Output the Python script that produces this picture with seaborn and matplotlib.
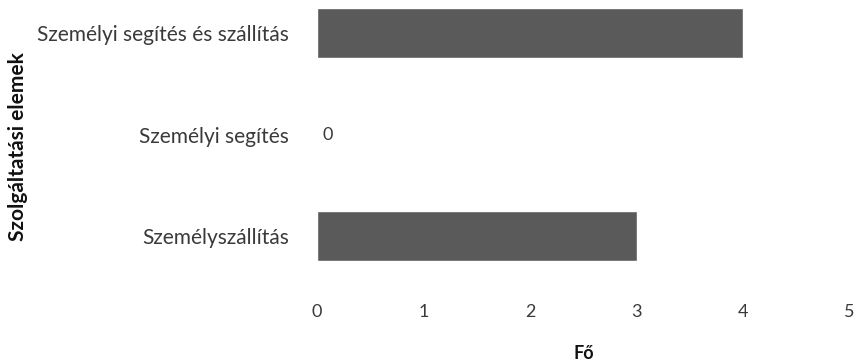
import matplotlib
matplotlib.use('Agg')
import matplotlib.pyplot as plt
import seaborn as sns
import pandas as pd

# ── Data ────────────────────────────────────────────────────
categories = ['Személyi segítés és szállítás', 'Személyi segítés', 'Személyszállítás']
values = [4, 0, 3]
x_ticks = [0, 1, 2, 3, 4, 5]

df = pd.DataFrame({'elem': categories, 'fo': values})

# ── Style ────────────────────────────────────────────────────
sns.set_style('white')
plt.rcParams['font.family'] = ['Lato', 'DejaVu Sans']

BAR = '#5a5a5a'
TXT = '#3a3a3a'

fig = plt.figure(figsize=(8.6, 3.62), dpi=100)
ax = fig.add_axes([0.3686, 0.199, 0.6194, 0.801])

sns.barplot(data=df, x='fo', y='elem', orient='h', color=BAR,
            width=0.49, saturation=1, ax=ax)

# zero-value data label
for i, v in enumerate(values):
    if v == 0:
        ax.text(v + 0.05, i, f'{v}', va='center', ha='left', fontsize=13, color=TXT)

ax.set_xlim(0, 5)
ax.set_ylim(2.53, -0.325)
ax.set_xticks(x_ticks)
ax.set_xticklabels([str(t) for t in x_ticks], fontsize=13, color=TXT)
ax.tick_params(axis='y', labelsize=15, labelcolor=TXT, length=0, pad=20)
ax.tick_params(axis='x', length=0, pad=10)
for s in ax.spines.values():
    s.set_visible(False)

ax.set_xlabel('Fő', fontsize=13, fontweight='bold', color='#111111', labelpad=18)
ax.set_ylabel('')
fig.text(0.021, 0.595, 'Szolgáltatási elemek', rotation=90, fontsize=15,
         fontweight='bold', color='#111111', ha='center', va='center')

plt.savefig('out.png', dpi=100)
